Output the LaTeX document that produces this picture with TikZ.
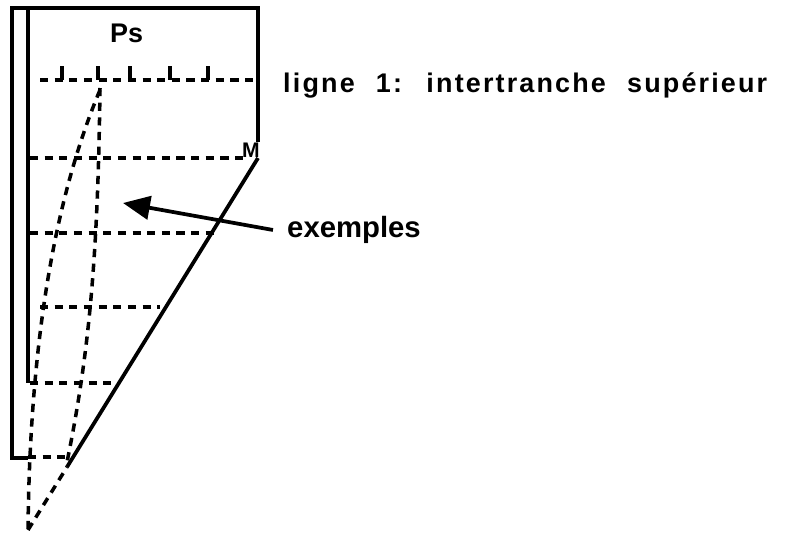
\documentclass[tikz,border=0pt]{standalone}
\usepackage{fontspec}
\setmainfont{Liberation Sans}
\newfontfamily\spacedfont[LetterSpace=8,WordSpace=2.2]{Liberation Sans}
\usetikzlibrary{arrows.meta,positioning}

\tikzset{
  wall/.style={line width=3.2pt},
  grille/.style={line width=3pt,dash pattern=on 7pt off 5.5pt},
  lbl/.style={font=\bfseries\fontsize{25}{28}\selectfont,inner sep=0pt},
}

\begin{document}
\begin{tikzpicture}[x=0.03cm,y=-0.03cm,>={Triangle[length=23pt,width=20pt]}]
\useasboundingbox (0,0) rectangle (790,532);
% frame
\draw[wall] (28,458) -- (12,458) -- (12,8) -- (258,8) -- (258,142);
\draw[wall] (28,8) -- (28,383);
% horizontal lines
\draw[grille] (40,80) -- (258,80);
\foreach \tx in {62,98,130,170,208}
  \draw[line width=3pt] (\tx,66) -- (\tx,80);
\draw[grille] (30,158) -- (245,158);
\draw[grille] (30,233) -- (215,233);
\draw[grille] (40,307) -- (160,307);
\draw[grille] (30,383) -- (118,383);
\draw[grille] (28,457) -- (68,457);
% curves
\draw[grille] (100,90) .. controls (58,190) and (30,330) .. (28,530);
\draw[grille] (100,88) .. controls (98,250) and (90,350) .. (67,462);
\draw[grille] (28,530) -- (67,467);
\draw[wall] (67,467) -- (258,158);
% labels
\node[lbl,font=\bfseries\fontsize{23}{26}\selectfont,anchor=base west] (ps) at (110,42) {Ps};
\node[lbl,font=\bfseries\fontsize{18}{20}\selectfont,anchor=base west] (m) at (242,157) {M};
\node[lbl,font=\spacedfont\bfseries\fontsize{23}{28}\selectfont,anchor=base west] (ligne) at (283,92) {ligne 1: intertranche supérieur};
\node[lbl,anchor=base west] (exemples) at (287,237) {exemples};
\coordinate (tip) at (123,203);
\draw[->,line width=3.2pt] ([xshift=-12pt,yshift=6pt]exemples.base west) -- (tip);
\end{tikzpicture}
\end{document}
